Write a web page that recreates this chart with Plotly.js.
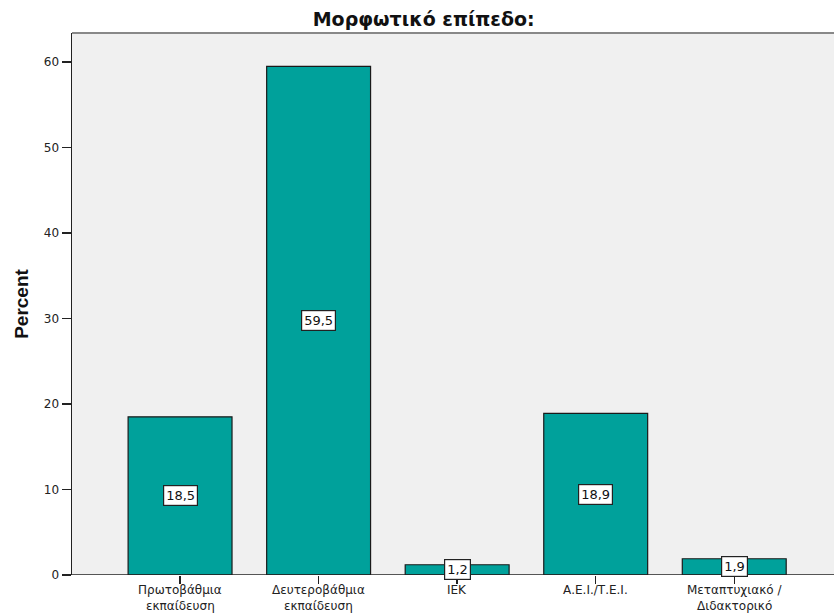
<!DOCTYPE html>
<html>
<head>
<meta charset="utf-8">
<script src="https://cdn.plot.ly/plotly-3.0.1.min.js"></script>
<style>html,body{margin:0;padding:0;background:#fff;}#chart{width:834px;height:616px;}</style>
</head>
<body>
<div id="chart"></div>
<script>
const categories = ["Πρωτοβάθμια<br>εκπαίδευση", "Δευτεροβάθμια<br>εκπαίδευση", "ΙΕΚ", "Α.Ε.Ι./Τ.Ε.Ι.", "Μεταπτυχιακό /<br>Διδακτορικό"];
const percents = [18.5, 59.5, 1.2, 18.9, 1.9];
const valueLabels = ["18,5", "59,5", "1,2", "18,9", "1,9"];
const yTicks = [0, 10, 20, 30, 40, 50, 60];

const xIdx = categories.map((c, i) => i);
const FONT = 'DejaVu Sans, Liberation Sans, Arial, sans-serif';

const trace = {
  type: 'bar',
  x: xIdx,
  y: percents,
  width: 0.75,
  marker: {color: '#00A19B', line: {color: '#1a1a1a', width: 1.2}},
  hoverinfo: 'skip'
};

const annotations = percents.map((v, i) => ({
  x: i, y: v / 2, xref: 'x', yref: 'y',
  text: valueLabels[i], showarrow: false,
  font: {family: FONT, size: 13, color: '#111'},
  bgcolor: '#ffffff', bordercolor: '#222', borderwidth: 1.2, borderpad: 2
}));

// category labels: each line drawn as its own text so lines can sit tightly together
const LABEL_SIZE = 12;
categories.forEach((c, i) => {
  c.split('<br>').forEach((line, j) => {
    annotations.push({
      x: i, xref: 'x', y: 0, yref: 'paper', yanchor: 'top',
      yshift: -7 - j * LABEL_SIZE * 1.32,
      text: line, showarrow: false,
      font: {family: FONT, size: LABEL_SIZE, color: '#222'},
      borderpad: 0
    });
  });
});

const layout = {
  width: 834, height: 616,
  margin: {l: 72, r: 0, t: 33, b: 41},
  paper_bgcolor: '#ffffff',
  plot_bgcolor: '#F0F0F0',
  font: {family: FONT, color: '#222'},
  title: {text: '<b>Μορφωτικό επίπεδο:</b>', xref: 'container', x: 0.508, xanchor: 'center',
          yref: 'container', y: 0.968, yanchor: 'middle',
          font: {family: FONT, size: 19, color: '#111'}},
  xaxis: {
    range: [-0.78, 4.72],
    tickmode: 'array', tickvals: xIdx, ticktext: xIdx.map(() => ''),
    ticks: 'outside', ticklen: 8, tickwidth: 1.5, tickcolor: '#222',
    showgrid: false, zeroline: false, showline: false
  },
  yaxis: {
    range: [0, 63.4],
    tickmode: 'array', tickvals: yTicks,
    ticks: 'outside', ticklen: 9, tickwidth: 1.5, tickcolor: '#222',
    showgrid: false, zeroline: false, showline: true, linecolor: '#222', linewidth: 1.5,
    tickfont: {family: FONT, size: 12, color: '#222'},
    title: {text: '<b>Percent</b>', font: {family: 'Liberation Sans, Arial, sans-serif', size: 19, color: '#111'}, standoff: 10}
  },
  bargap: 0.25,
  showlegend: false,
  annotations: annotations,
  shapes: [
    {type: 'line', xref: 'paper', yref: 'paper', x0: 0, x1: 1, y0: 1, y1: 1, line: {color: '#888', width: 2}},
    {type: 'line', xref: 'paper', yref: 'y', x0: 0, x1: 1, y0: 0, y1: 0, line: {color: '#222', width: 1.5}, layer: 'above'}
  ]
};

Plotly.newPlot('chart', [trace], layout, {displayModeBar: false, staticPlot: true});
</script>
</body>
</html>
